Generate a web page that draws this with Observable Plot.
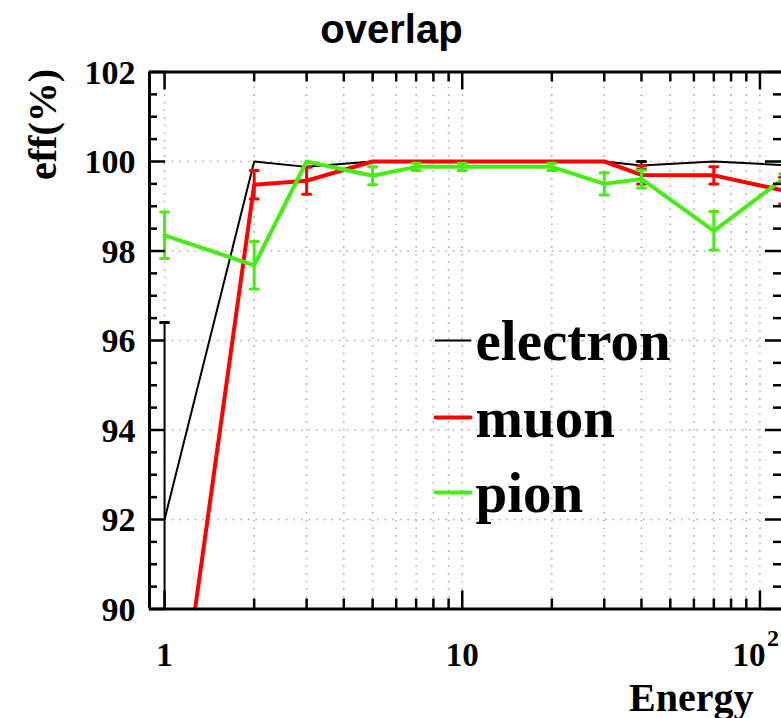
<!DOCTYPE html>
<html><head><meta charset="utf-8">
<script src="https://cdn.jsdelivr.net/npm/d3@7"></script>
<script src="https://cdn.jsdelivr.net/npm/@observablehq/plot@0.6"></script>
<style>html,body{margin:0;padding:0;background:#fff;overflow:hidden}</style>
</head><body><div id="chart"></div>
<script>
// ---- data ----
const energy      = [1, 2, 3, 5, 7, 10, 20, 30, 40, 70, 120];
const electronEff = [92.0, 100.0, 99.88, 100.0, 100.0, 100.0, 100.0, 100.0, 99.91, 100.0, 99.92];
const electronErr = [4.4, 0, 0, 0, 0, 0, 0, 0, 0.09, 0, 0];
const muonEff     = [85.1, 99.48, 99.57, 100.0, 100.0, 100.0, 100.0, 100.0, 99.70, 99.69, 99.35];
const muonErr     = [3.0, 0.32, 0.30, 0, 0, 0, 0, 0, 0.20, 0.19, 0.30];
const pionEff     = [98.35, 97.68, 100.0, 99.68, 99.88, 99.88, 99.88, 99.50, 99.61, 98.45, 99.62];
const pionErr     = [0.52, 0.53, 0, 0.20, 0.08, 0.08, 0.08, 0.25, 0.20, 0.43, 0.10];
const seriesNames = ["electron", "muon", "pion"];
const xDomain = [0.89, 120];
const yDomain = [90, 102];
const xMajor = [1, 10, 100];
const xMinor = [2, 3, 4, 5, 6, 7, 8, 9, 20, 30, 40, 50, 60, 70, 80, 90];
const yMajor = [90, 92, 94, 96, 98, 100, 102];
const yMinor = [90.5, 91, 91.5, 92.5, 93, 93.5, 94.5, 95, 95.5, 96.5, 97, 97.5, 98.5, 99, 99.5, 100.5, 101, 101.5];
const xGrid = [1, 2, 3, 4, 5, 6, 7, 8, 9, 10, 20, 30, 40, 50, 60, 70, 80, 90, 100];
const yGrid = [92, 94, 96, 98, 100];
const titleText = "overlap";
const xTitle = "Energy";
const yTitle = "eff(%)";

// ---- layout ----
const W = 781, H = 718;
const mL = 149, mR = 0, mT = 71.5, mB = 109.5;
const frameW = W - mL - mR, frameH = H - mT - mB;
const serif = "Liberation Serif, 'Times New Roman', serif";
const sans = "Liberation Sans, Arial, Helvetica, sans-serif";

const styles = [
  {color: "#000000", width: 2, errW: 2},
  {color: "#ff0000", width: 4, errW: 3},
  {color: "#44ee11", width: 4, errW: 3}
];
const effs = [electronEff, muonEff, pionEff];
const errs = [electronErr, muonErr, pionErr];

const hShape = {draw(ctx, l) { ctx.moveTo(0, 0); ctx.lineTo(0, -l); }};

const marks = [];
// grid
marks.push(Plot.ruleX(xGrid, {stroke: "#b0b0b0", strokeWidth: 1.6, strokeDasharray: "1.6,6"}));
marks.push(Plot.ruleY(yGrid, {stroke: "#b0b0b0", strokeWidth: 1.6, strokeDasharray: "1.6,6"}));

// series
seriesNames.forEach((name, k) => {
  const st = styles[k];
  const rows = energy.map((e, i) => ({x: e, y: effs[k][i], err: errs[k][i]}));
  const eb = rows.filter(r => r.err > 0);
  marks.push(Plot.ruleX(eb, {x: "x", y1: r => r.y - r.err, y2: r => r.y + r.err, stroke: st.color, strokeWidth: st.errW, clip: true}));
  marks.push(Plot.vector(eb, {x: "x", y: r => r.y + r.err, length: 8, rotate: 90, anchor: "middle", shape: hShape, stroke: st.color, strokeWidth: 3, clip: true}));
  marks.push(Plot.vector(eb, {x: "x", y: r => r.y - r.err, length: 8, rotate: 90, anchor: "middle", shape: hShape, stroke: st.color, strokeWidth: 3, clip: true}));
  marks.push(Plot.line(rows, {x: "x", y: "y", stroke: st.color, strokeWidth: st.width, clip: true}));
});

// frame (left, bottom, top)
marks.push(Plot.ruleX([xDomain[0]], {stroke: "#000", strokeWidth: 3}));
marks.push(Plot.ruleY(yDomain, {stroke: "#000", strokeWidth: 3}));

// ticks
const tk = {stroke: "#000", strokeWidth: 2.5};
marks.push(Plot.tickX(xMajor, {...tk, insetTop: frameH - 18}));
marks.push(Plot.tickX(xMinor, {...tk, insetTop: frameH - 10}));
marks.push(Plot.tickX(xMajor, {...tk, insetBottom: frameH - 18}));
marks.push(Plot.tickX(xMinor, {...tk, insetBottom: frameH - 10}));
marks.push(Plot.tickY(yMajor, {...tk, insetRight: frameW - 16}));
marks.push(Plot.tickY(yMinor, {...tk, insetRight: frameW - 8}));
marks.push(Plot.tickY(yMajor, {...tk, insetLeft: frameW - 16}));
marks.push(Plot.tickY(yMinor, {...tk, insetLeft: frameW - 8}));

// tick labels
const lab = {fontFamily: serif, fontWeight: "bold", fill: "#000"};
marks.push(Plot.text(xMajor.filter(d => d < 100), {...lab, x: d => d, text: d => String(d), frameAnchor: "bottom", lineAnchor: "bottom", dy: 56.5, fontSize: 33}));
marks.push(Plot.text([100], {...lab, x: d => d, text: () => "10", frameAnchor: "bottom", lineAnchor: "bottom", dy: 56.5, dx: -11, fontSize: 33}));
marks.push(Plot.text([100], {...lab, x: d => d, text: () => "2", frameAnchor: "bottom", lineAnchor: "bottom", dy: 37, dx: 13, fontSize: 24}));
marks.push(Plot.text(yMajor, {...lab, y: d => d, text: d => String(d), frameAnchor: "left", textAnchor: "end", lineAnchor: "middle", dx: -14, dy: 1, fontSize: 34}));

// titles
marks.push(Plot.text([titleText], {text: d => d, frameAnchor: "top-left", textAnchor: "middle", lineAnchor: "bottom", dx: 391 - mL, dy: 42 - mT, fontFamily: sans, fontWeight: "bold", fontSize: 40, fill: "#000"}));
marks.push(Plot.text([xTitle], {...lab, text: d => d, frameAnchor: "bottom-right", textAnchor: "end", lineAnchor: "bottom", dx: -28, dy: 710 - (H - mB), fontSize: 40}));
marks.push(Plot.text([yTitle], {...lab, text: d => d, frameAnchor: "top-left", textAnchor: "middle", lineAnchor: "bottom", rotate: -90, dx: 55 - mL, dy: 124 - mT, fontSize: 40}));

// legend
const legendY = [340, 417, 492];
seriesNames.forEach((name, k) => {
  const st = styles[k];
  marks.push(Plot.vector([0], {frameAnchor: "top-left", dx: 435 - mL, dy: legendY[k] - mT, length: 35, rotate: 90, anchor: "start", shape: hShape, stroke: st.color, strokeWidth: st.width === 2 ? 2 : 4}));
  marks.push(Plot.text([name], {...lab, text: d => d, frameAnchor: "top-left", textAnchor: "start", lineAnchor: "bottom", dx: 475 - mL, dy: legendY[k] + 19 - mT, fontSize: 57}));
});

const chart = Plot.plot({
  width: W, height: H,
  marginLeft: mL, marginRight: mR, marginTop: mT, marginBottom: mB,
  style: {background: "#fff"},
  x: {type: "log", domain: xDomain, range: [mL, 783], axis: null},
  y: {domain: yDomain, range: [H - mB, mT], axis: null},
  marks
});
document.getElementById("chart").appendChild(chart);
</script>
</body></html>
